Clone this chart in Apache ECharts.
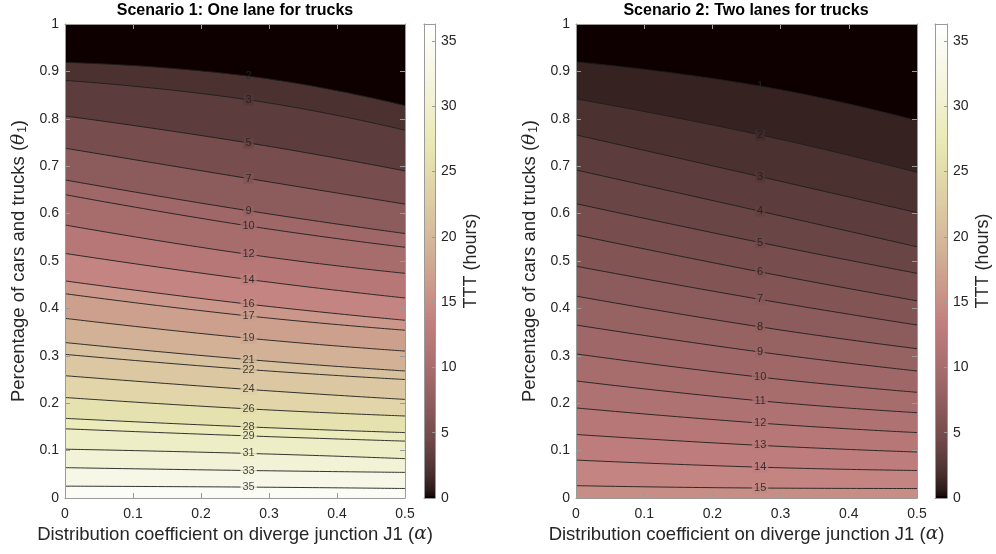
<!DOCTYPE html>
<html>
<head>
<meta charset="utf-8">
<script src="https://cdn.jsdelivr.net/npm/echarts@6/dist/echarts.min.js"></script>
<style>html,body{margin:0;padding:0;background:#fff;}#c{width:996px;height:554px;}</style>
</head>
<body>
<div id="c"></div>
<script>
// ---- data ----
const ALPHA_POS = [0, 0.27, 0.5];           // alpha positions where each contour is sampled
const CMAX = 36.3;                          // colour scale top (TTT hours)
// Scenario 1 contour levels and theta values at alpha = 0, 0.27, 0.5
const S1_LEVELS = [2, 3, 5, 7, 9, 10, 12, 14, 16, 17, 19, 21, 22, 24, 26, 28, 29, 31, 33, 35];
const S1_AT_0   = [0.919, 0.881, 0.806, 0.738, 0.671, 0.640, 0.576, 0.516, 0.458, 0.431, 0.379, 0.328, 0.303, 0.258, 0.212, 0.168, 0.146, 0.103, 0.064, 0.025];
const S1_AT_MID = [0.890, 0.840, 0.749, 0.674, 0.606, 0.574, 0.514, 0.461, 0.409, 0.384, 0.337, 0.292, 0.271, 0.229, 0.188, 0.150, 0.131, 0.094, 0.058, 0.023];
const S1_AT_END = [0.828, 0.776, 0.690, 0.620, 0.558, 0.529, 0.474, 0.422, 0.375, 0.354, 0.310, 0.268, 0.250, 0.208, 0.173, 0.138, 0.120, 0.083, 0.054, 0.020];
// Scenario 2
const S2_LEVELS = [1, 2, 3, 4, 5, 6, 7, 8, 9, 10, 11, 12, 13, 14, 15];
const S2_AT_0   = [0.920, 0.842, 0.766, 0.692, 0.621, 0.555, 0.489, 0.426, 0.365, 0.304, 0.247, 0.190, 0.134, 0.080, 0.026];
const S2_AT_MID = [0.869, 0.766, 0.678, 0.605, 0.539, 0.477, 0.419, 0.361, 0.308, 0.255, 0.205, 0.158, 0.111, 0.065, 0.021];
const S2_AT_END = [0.796, 0.687, 0.602, 0.530, 0.474, 0.416, 0.365, 0.315, 0.268, 0.223, 0.180, 0.138, 0.097, 0.058, 0.020];
const TITLES = ['Scenario 1: One lane for trucks', 'Scenario 2: Two lanes for trucks'];
const X_NAME = 'Distribution coefficient on diverge junction J1 ({it|α})';
const Y_NAME = 'Percentage of cars and trucks ({it|θ}{sub|1})';
const CB_NAME = 'TTT (hours)';

// ---- MATLAB "pink" colormap (256 entries) ----
const M = 256;
function pinkRGB(i) {
  const n = Math.floor(3 / 8 * M);
  const gray = i / (M - 1);
  const r = i < n ? (i + 1) / n : 1;
  const g = i < n ? 0 : (i < 2 * n ? (i - n + 1) / n : 1);
  const b = i < 2 * n ? 0 : (i - 2 * n + 1) / (M - 2 * n);
  const f = v => 255 * Math.sqrt((2 * gray + v) / 3);
  return [f(r), f(g), f(b)];
}
function css(c) { return 'rgb(' + c.map(Math.round).join(',') + ')'; }
function idxOf(v) { return Math.max(0, Math.min(M - 1, Math.floor(v / CMAX * M))); }
function pinkVal(v) { return css(pinkRGB(idxOf(v))); }
function mixVal(va, vb) {
  const a = pinkRGB(idxOf(va)), b = pinkRGB(idxOf(vb));
  return css([(a[0] + b[0]) / 2, (a[1] + b[1]) / 2, (a[2] + b[2]) / 2]);
}

const FONT = "'Liberation Sans', Arial, Helvetica, sans-serif";
const TXT = '#262626';
const AX = '#9a9a9a';

const GRIDS = [
  { left: 65, top: 24, width: 340, height: 474 },
  { left: 424, top: 24, width: 11, height: 474 },
  { left: 576, top: 24, width: 341, height: 474 },
  { left: 935, top: 24, width: 12, height: 474 }
];

const richName = {
  it: { fontStyle: 'italic', fontFamily: "'DejaVu Serif', 'Liberation Serif', serif", fontSize: 18.5, color: TXT },
  sub: { fontSize: 12, color: TXT, fontFamily: FONT, padding: [8, 0, 0, 1], verticalAlign: 'bottom' }
};

function mainX(grid, pos, withLabel) {
  return {
    gridIndex: grid, type: 'value', position: pos, min: 0, max: 0.5, interval: 0.1, z: 100,
    axisLine: { show: true, onZero: false, lineStyle: { color: AX, width: 1 } },
    axisTick: { show: true, inside: true, length: 5, lineStyle: { color: AX } },
    axisLabel: { show: withLabel, color: TXT, fontSize: 14, fontFamily: FONT, margin: 9 },
    splitLine: { show: false },
    name: withLabel ? X_NAME : '', nameLocation: 'middle', nameGap: 27, nameMoveOverlap: false,
    nameTextStyle: { fontSize: 18.5, color: TXT, fontFamily: FONT, rich: richName }
  };
}
function mainY(grid, pos, withLabel) {
  return {
    gridIndex: grid, type: 'value', position: pos, min: 0, max: 1, interval: 0.1, z: 100,
    axisLine: { show: true, onZero: false, lineStyle: { color: AX, width: 1 } },
    axisTick: { show: true, inside: true, length: 5, lineStyle: { color: AX } },
    axisLabel: { show: withLabel, color: TXT, fontSize: 14, fontFamily: FONT, margin: 6 },
    splitLine: { show: false },
    name: withLabel ? Y_NAME : '', nameLocation: 'middle', nameGap: 36, nameRotate: 90, nameMoveOverlap: false,
    nameTextStyle: { fontSize: 18.5, color: TXT, fontFamily: FONT, rich: richName }
  };
}
function cbX(grid, pos) {
  return {
    gridIndex: grid, type: 'category', data: ['c'], position: pos, z: 100,
    axisLine: { show: true, onZero: false, lineStyle: { color: AX, width: 1 } },
    axisTick: { show: false }, axisLabel: { show: false }, splitLine: { show: false }
  };
}
function cbY(grid, pos, withLabel) {
  return {
    gridIndex: grid, type: 'value', position: pos, min: 0, max: CMAX, interval: 5, z: 100,
    axisLine: { show: true, onZero: false, lineStyle: { color: AX, width: 1 } },
    axisTick: { show: withLabel, inside: true, length: 3, lineStyle: { color: AX } },
    axisLabel: { show: withLabel, color: TXT, fontSize: 14, fontFamily: FONT, margin: 6, showMaxLabel: false,
      formatter: v => (Math.abs(v % 5) < 1e-9 ? String(v) : '') },
    splitLine: { show: false },
    name: withLabel ? CB_NAME : '', nameLocation: 'middle', nameGap: 27, nameRotate: 90, nameMoveOverlap: false,
    nameTextStyle: { fontSize: 18, color: TXT, fontFamily: FONT }
  };
}

function panelSeries(xi, yi, levels, a0, am, a1) {
  const out = [];
  levels.forEach((lvl, k) => {
    out.push({
      type: 'line', xAxisIndex: xi, yAxisIndex: yi, smooth: 0.5, symbol: 'none', silent: true, z: 10 + k,
      data: [[ALPHA_POS[0], a0[k]], [ALPHA_POS[1], am[k]], [ALPHA_POS[2], a1[k]]],
      lineStyle: { color: '#1e1e1e', width: 0.9 },
      areaStyle: { color: pinkVal(lvl), opacity: 1, origin: 'start' }
    });
  });
  out.push({
    type: 'scatter', xAxisIndex: xi, yAxisIndex: yi, silent: true, z: 60, symbolSize: 0,
    data: levels.map((lvl, k) => ({
      value: [ALPHA_POS[1], am[k], lvl],
      label: k === 0
        ? { backgroundColor: 'transparent', color: '#2a2a2a' }
        : { backgroundColor: mixVal(levels[k - 1], lvl) }
    })),
    label: { show: true, position: 'inside', formatter: p => String(p.value[2]), fontSize: 11,
      fontFamily: FONT, color: '#1a1a1a', padding: [0, 2], lineHeight: 11 }
  });
  return out;
}

const stops = [];
for (let i = 0; i < M; i++) {
  const c = css(pinkRGB(i));
  stops.push({ offset: i / M, color: c }, { offset: (i + 1) / M, color: c });
}
function cbSeries(xi, yi) {
  return {
    type: 'bar', xAxisIndex: xi, yAxisIndex: yi, data: [CMAX], barWidth: '100%', silent: true, z: 5,
    itemStyle: { color: new echarts.graphic.LinearGradient(0, 1, 0, 0, stops) }
  };
}

const chart = echarts.init(document.getElementById('c'), null, { renderer: 'canvas' });
chart.setOption({
  animation: false,
  backgroundColor: '#ffffff',
  title: [
    { text: TITLES[0], left: 235, top: 3, textAlign: 'center', padding: 0,
      textStyle: { fontSize: 16, fontWeight: 'bold', color: '#000', fontFamily: FONT } },
    { text: TITLES[1], left: 746, top: 3, textAlign: 'center', padding: 0,
      textStyle: { fontSize: 16, fontWeight: 'bold', color: '#000', fontFamily: FONT } }
  ],
  grid: GRIDS.map((g, i) => Object.assign({
    show: i === 0 || i === 2, backgroundColor: pinkVal(0), borderWidth: 0,
    containLabel: false, outerBoundsMode: 'none'
  }, g)),
  xAxis: [mainX(0, 'bottom', true), mainX(0, 'top', false), cbX(1, 'bottom'), cbX(1, 'top'),
          mainX(2, 'bottom', true), mainX(2, 'top', false), cbX(3, 'bottom'), cbX(3, 'top')],
  yAxis: [mainY(0, 'left', true), mainY(0, 'right', false), cbY(1, 'left', false), cbY(1, 'right', true),
          mainY(2, 'left', true), mainY(2, 'right', false), cbY(3, 'left', false), cbY(3, 'right', true)],
  series: [].concat(
    panelSeries(0, 0, S1_LEVELS, S1_AT_0, S1_AT_MID, S1_AT_END),
    [cbSeries(2, 3)],
    panelSeries(4, 4, S2_LEVELS, S2_AT_0, S2_AT_MID, S2_AT_END),
    [cbSeries(6, 7)]
  )
});
</script>
</body>
</html>
